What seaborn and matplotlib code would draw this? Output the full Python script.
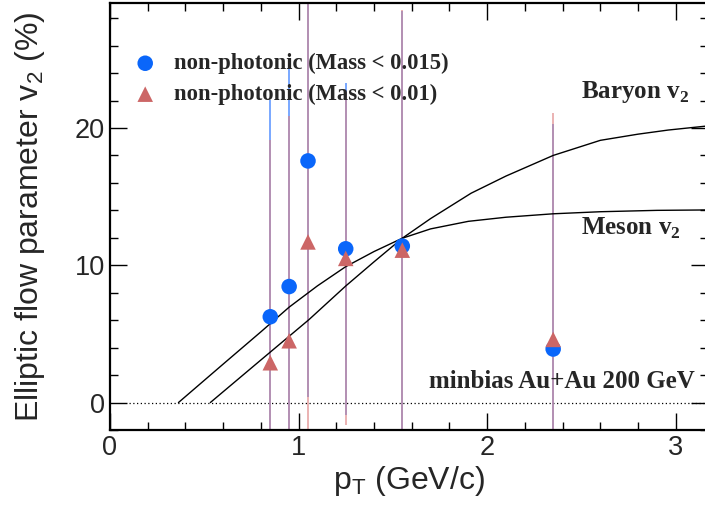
import seaborn as sns
import matplotlib.pyplot as plt
from matplotlib.ticker import MultipleLocator
import pandas as pd

# measured points (pT in GeV/c, v2 in %)
pt = [0.85, 0.95, 1.05, 1.25, 1.55, 2.35]
v2_m015 = [6.25, 8.45, 17.6, 11.2, 11.4, 3.9]
err_m015 = [15.8, 16.0, 17.2, 12.1, 17.1, 16.4]
v2_m010 = [2.9, 4.5, 11.7, 10.5, 11.1, 4.6]
err_m010 = [16.2, 16.4, 18.5, 12.1, 17.5, 16.5]

# reference curves
meson_pt = [0.363, 0.6, 0.8, 0.95, 1.1, 1.25, 1.4, 1.55, 1.7, 1.9, 2.1, 2.35, 2.6, 2.9, 3.17]
meson_v2 = [0.0, 2.8, 5.15, 6.95, 8.5, 9.9, 11.0, 11.97, 12.65, 13.2, 13.5, 13.75, 13.9, 14.0, 14.03]
baryon_pt = [0.532, 0.8, 1.055, 1.25, 1.4, 1.55, 1.7, 1.915, 2.1, 2.35, 2.6, 2.8, 2.96, 3.17]
baryon_v2 = [0.0, 3.1, 6.04, 8.49, 10.25, 11.97, 13.4, 15.25, 16.5, 18.0, 19.1, 19.55, 19.85, 20.15]

sns.set_style("ticks")
plt.rcParams['font.family'] = ['Liberation Sans', 'DejaVu Sans']
plt.rcParams['mathtext.fontset'] = 'custom'
plt.rcParams['mathtext.bf'] = 'Liberation Serif:bold'
plt.rcParams['mathtext.sf'] = 'Liberation Sans'
plt.rcParams['mathtext.rm'] = 'Liberation Sans'

fig = plt.figure(figsize=(7.05, 5.08), dpi=100)
ax = fig.add_axes([0.156, 0.1535, 0.848, 0.8405])

blue = '#0a66fa'
red = '#cc6666'

# error bars
ax.vlines(pt, [v - e for v, e in zip(v2_m015, err_m015)],
          [v + e for v, e in zip(v2_m015, err_m015)], color='#4d8cff', lw=1.4, alpha=0.75, zorder=2)
ax.vlines(pt, [v - e for v, e in zip(v2_m010, err_m010)],
          [v + e for v, e in zip(v2_m010, err_m010)], color='#dd8080', lw=1.4, alpha=0.6, zorder=2)

# curves
sns.lineplot(x=meson_pt, y=meson_v2, color='black', lw=1, ax=ax, zorder=3)
sns.lineplot(x=baryon_pt, y=baryon_v2, color='black', lw=1, ax=ax, zorder=3)
ax.hlines(0, 0.1, 3.17, color='black', lw=0.9, linestyles=(0, (1, 2)), zorder=1)

df_a = pd.DataFrame({'pt': pt, 'v2': v2_m015})
df_b = pd.DataFrame({'pt': pt, 'v2': v2_m010})
sns.scatterplot(data=df_a, x='pt', y='v2', marker='o', s=125, color=blue, edgecolor='none',
                label='non-photonic (Mass < 0.015)', ax=ax, zorder=4)
sns.scatterplot(data=df_b, x='pt', y='v2', marker='^', s=125, color=red, edgecolor='none',
                label='non-photonic (Mass < 0.01)', ax=ax, zorder=5)

ax.set_xlim(0, 3.17)
ax.set_ylim(-2, 29.1)
ax.xaxis.set_major_locator(MultipleLocator(1))
ax.xaxis.set_minor_locator(MultipleLocator(0.2))
ax.yaxis.set_major_locator(MultipleLocator(10))
ax.yaxis.set_minor_locator(MultipleLocator(2))
ax.tick_params(which='both', direction='in', top=True, right=True, labelsize=19.5, width=1, color='black')
ax.tick_params(which='major', length=12)
ax.tick_params(which='minor', length=6)
for sp in ax.spines.values():
    sp.set_linewidth(1.6)
    sp.set_color('black')

ax.set_xlabel(r'$\mathsf{p}_\mathsf{T}$ (GeV/c)', fontsize=23, labelpad=2)
ax.set_ylabel(r'Elliptic flow parameter $\mathsf{v}_\mathsf{2}$ (%)', fontsize=23, labelpad=20)

label_font = {'family': 'Liberation Serif', 'weight': 'bold', 'size': 18}
ax.text(2.495, 22.6, r'Baryon $\mathbf{v}_\mathbf{2}$', va='center', ha='left', fontdict=label_font)
ax.text(2.495, 12.7, r'Meson $\mathbf{v}_\mathbf{2}$', va='center', ha='left', fontdict=label_font)
ax.text(1.69, 1.5, 'minbias Au+Au 200 GeV', va='center', ha='left', fontdict=label_font)

legend_font = {'family': 'Liberation Serif', 'weight': 'bold', 'size': 16.3}
ax.legend(loc='upper left', bbox_to_anchor=(0.04, 0.883), frameon=False, prop=legend_font,
          handlelength=1.0, handletextpad=0.78, labelspacing=0.43, borderaxespad=0, borderpad=0)

plt.savefig('out.png', dpi=100)
plt.close()
